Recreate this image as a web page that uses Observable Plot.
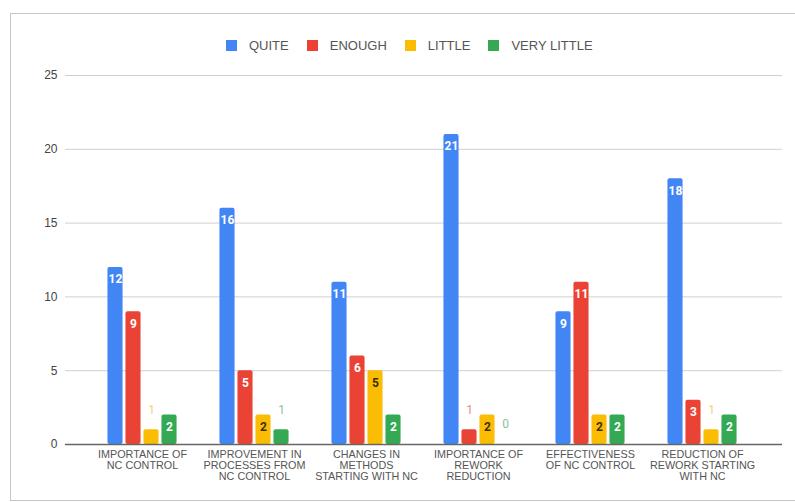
<!DOCTYPE html>
<html><head><meta charset="utf-8">
<script src="https://cdn.jsdelivr.net/npm/d3@7"></script>
<script src="https://cdn.jsdelivr.net/npm/@observablehq/plot@0.6"></script>
<style>
body{margin:0;background:#fff;font-family:Arial,"Liberation Sans",sans-serif;}
#frame{position:absolute;left:10px;top:13px;width:800px;height:486px;border:1px solid #c6c6c6;}
#legend{position:absolute;left:226px;top:38px;display:flex;align-items:center;font-size:13px;color:#555;}
.item{display:flex;align-items:center;margin-right:18px}
.sw{width:11px;height:11px;margin-right:12px}
#chart{position:absolute;left:0;top:60px;}
</style></head><body>
<div id="frame"></div><div id="legend"></div><div id="chart"></div>
<script>
const categories = ["IMPORTANCE OF\nNC CONTROL", "IMPROVEMENT IN\nPROCESSES FROM\nNC CONTROL", "CHANGES IN\nMETHODS\nSTARTING WITH NC", "IMPORTANCE OF\nREWORK\nREDUCTION", "EFFECTIVENESS\nOF NC CONTROL", "REDUCTION OF\nREWORK STARTING\nWITH NC"];
const seriesNames = ["QUITE", "ENOUGH", "LITTLE", "VERY LITTLE"];
const quite = [12, 16, 11, 21, 9, 18];
const enough = [9, 5, 6, 1, 11, 3];
const little = [1, 2, 5, 2, 2, 1];
const veryLittle = [2, 1, 2, 0, 2, 2];
const yTicks = [0, 5, 10, 15, 20, 25];

const colors = ["#4285F4", "#EA4335", "#FBBC04", "#34A853"];
const insideText = ["#ffffff", "#ffffff", "#3b2f00", "#ffffff"];
const outsideText = ["#8ab4f8", "#ec8a80", "#f4d27a", "#8cc29a"];
const offsets = [-27, -9, 9, 27];
const values = [quite, enough, little, veryLittle];

// legend
const leg = document.getElementById("legend");
seriesNames.forEach((n, i) => {
  const it = document.createElement("div"); it.className = "item";
  const sw = document.createElement("div"); sw.className = "sw"; sw.style.background = colors[i];
  const tx = document.createElement("span"); tx.textContent = n;
  it.append(sw, tx); leg.append(it);
});

const marks = [
  Plot.gridY({ticks: yTicks, stroke: "#d0d0d0", strokeOpacity: 1}),
  Plot.axisY({ticks: yTicks, tickSize: 0, tickPadding: 8, fontSize: 12, color: "#444", label: null}),
  Plot.axisX({tickSize: 0, tickPadding: 5, fontSize: 10.8, lineHeight: 1.05, color: "#555", label: null})
];
values.forEach((vals, si) => {
  const rows = categories.map((c, i) => ({category: c, value: vals[i]}));
  marks.push(Plot.barY(rows, {x: "category", y: "value", fill: colors[si], insetLeft: 48.45, insetRight: 48.45, dx: offsets[si], rx: 2}));
});
marks.push(Plot.ruleY([0], {stroke: "#666", strokeWidth: 1.5}));
values.forEach((vals, si) => {
  const rows = categories.map((c, i) => ({category: c, value: vals[i]}));
  marks.push(Plot.text(rows.filter(d => d.value >= 2), {x: "category", y: "value", text: d => String(d.value), dx: offsets[si], dy: 12, fill: insideText[si], fontWeight: "bold", fontSize: 12, fontFamily: "Roboto, Arial, sans-serif"}));
  marks.push(Plot.text(rows.filter(d => d.value < 2), {x: "category", y: "value", text: d => String(d.value), dx: offsets[si], dy: -20, fill: outsideText[si], fontSize: 12, fontFamily: "Roboto, Arial, sans-serif"}));
});

const chart = Plot.plot({
  width: 795, height: 442,
  marginTop: 15, marginBottom: 58, marginLeft: 65, marginRight: 13,
  x: {domain: categories, padding: 0, insetLeft: 18.5, insetRight: 21},
  y: {domain: [0, 25]},
  style: {fontFamily: "Arial, 'Liberation Sans', sans-serif", background: "transparent"},
  marks
});
document.getElementById("chart").append(chart);
</script>
</body></html>
